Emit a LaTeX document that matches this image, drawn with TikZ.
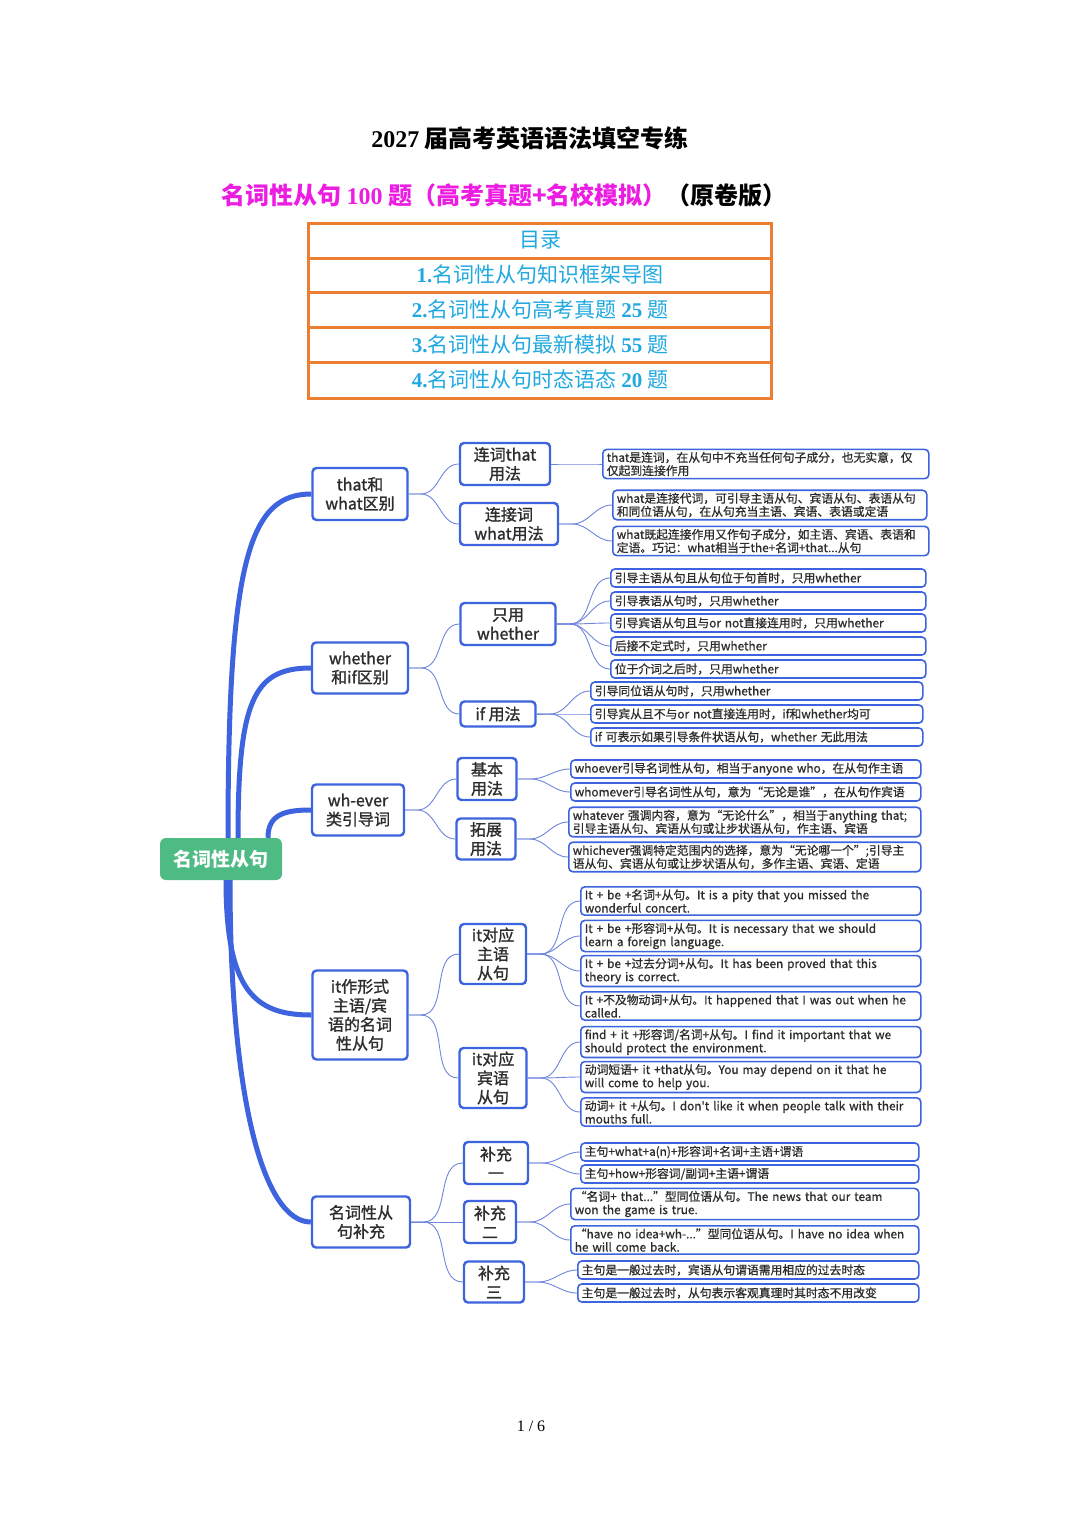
\documentclass[tikz,border=0pt]{standalone}
\usepackage{fontspec}
\setmainfont{Noto Sans CJK SC}[Ligatures=TeXOff]
\newfontfamily\mapfont{Noto Sans CJK SC}[Ligatures=TeXOff,FakeBold=0.8]
\newfontfamily\topicfont{Noto Sans CJK SC}[Ligatures=TeXOff,FakeBold=1.3]
\newfontfamily\serifnum{Liberation Serif}
\definecolor{mapblue}{RGB}{61,100,222}
\definecolor{linkblue}{RGB}{112,134,220}
\definecolor{rootgreen}{RGB}{78,186,132}
\definecolor{inkgray}{RGB}{45,45,45}
\definecolor{tocorange}{RGB}{237,125,49}
\definecolor{toccyan}{RGB}{32,168,224}
\definecolor{titlepink}{RGB}{236,28,226}
\begin{document}
\begin{tikzpicture}[x=1pt,y=-1pt,
		root/.style={fill=rootgreen,rounded corners=6pt,text=white,font=\fontsize{19}{22}\selectfont\bfseries,minimum width=122pt,minimum height=42pt},
		topic/.style={draw=mapblue,line width=2.4pt,rounded corners=4pt,fill=white,text=inkgray,align=center,inner sep=2pt,font=\topicfont\fontsize{16}{19}\selectfont},
		leaf/.style={draw=mapblue,line width=1.6pt,rounded corners=4pt,fill=white,text=inkgray,align=left,anchor=west,inner xsep=4pt,inner ysep=2.5pt,minimum height=18pt,font=\mapfont\fontsize{11.8}{13.2}\selectfont},
		branch/.style={draw=mapblue,line width=5pt},
		twig/.style={draw=linkblue,line width=0.9pt},
		toc/.style={text=toccyan,font=\fontsize{21}{24}\selectfont}]
		\useasboundingbox[fill=white] (0,0) rectangle (1080,1528);
		\node (title) at (530,138) {\fontsize{24}{28}\selectfont\bfseries{\serifnum 2027} 届高考英语语法填空专练};
		\node (sub) at (504,195) {\fontsize{24}{28}\selectfont\bfseries\textcolor{titlepink}{名词性从句 {\serifnum 100} 题（高考真题+名校模拟）}（原卷版）};
		\draw[tocorange,line width=3pt] (308,223) rectangle (771,398);
		\foreach \y in {258,292,327,362}{
			\draw[tocorange,line width=3pt] (308,\y) -- (771,\y);
		}
		\node[toc] (toc0) at (540,240) {目录};
		\node[toc] (toc1) at (540,275) {{\serifnum\bfseries 1.}名词性从句知识框架导图};
		\node[toc] (toc2) at (540,310) {{\serifnum\bfseries 2.}名词性从句高考真题 {\serifnum\bfseries 25} 题};
		\node[toc] (toc3) at (540,345) {{\serifnum\bfseries 3.}名词性从句最新模拟 {\serifnum\bfseries 55} 题};
		\node[toc] (toc4) at (540,380) {{\serifnum\bfseries 4.}名词性从句时态语态 {\serifnum\bfseries 20} 题};

		\node[root] (root) at (221,859) {名词性从句};
		\node[topic,minimum width=95pt,minimum height=52pt] (tw) at (360,494) {that和\\what区别};
		\node[topic,minimum width=96pt,minimum height=51pt] (wi) at (360,668) {whether\\和if区别};
		\node[topic,minimum width=92pt,minimum height=51pt] (we) at (358,810) {wh-ever\\类引导词};
		\node[topic,minimum width=95pt,minimum height=89pt] (it) at (360,1015) {it作形式\\主语/宾\\语的名词\\性从句};
		\node[topic,minimum width=98pt,minimum height=51pt] (bc) at (361,1222) {名词性从\\句补充};

		\node[topic,minimum width=90pt,minimum height=42pt] (tw1) at (505,464) {连词that\\用法};
		\node[topic,minimum width=98pt,minimum height=42pt] (tw2) at (509,524) {连接词\\what用法};
		\node[topic,minimum width=95pt,minimum height=42pt] (wi1) at (508,624) {只用\\whether};
		\node[topic,minimum width=75pt,minimum height=25pt] (wi2) at (498,714) {if 用法};
		\node[topic,minimum width=59pt,minimum height=42pt] (we1) at (487,779) {基本\\用法};
		\node[topic,minimum width=59pt,minimum height=41pt] (we2) at (486,839) {拓展\\用法};
		\node[topic,minimum width=66pt,minimum height=60pt] (it1) at (493,954) {it对应\\主语\\从句};
		\node[topic,minimum width=67pt,minimum height=60pt] (it2) at (493,1078) {it对应\\宾语\\从句};
		\node[topic,minimum width=64pt,minimum height=42pt] (bc1) at (496,1163) {补充\\一};
		\node[topic,minimum width=52pt,minimum height=42pt] (bc2) at (490,1222) {补充\\二};
		\node[topic,minimum width=60pt,minimum height=41pt] (bc3) at (494,1282) {补充\\三};

		\node[leaf,text width=318pt] (a1) at (602,464) {that是连词，在从句中不充当任何句子成分，也无实意，仅\\仅起到连接作用};
		\node[leaf,text width=306pt] (a2) at (612,505) {what是连接代词，可引导主语从句、宾语从句、表语从句\\和同位语从句，在从句充当主语、宾语、表语或定语};
		\node[leaf,text width=308pt] (a3) at (612,541) {what既起连接作用又作句子成分，如主语、宾语、表语和\\定语。巧记：what相当于the+名词+that...从句};
		\node[leaf,text width=307pt] (b1) at (610,578) {引导主语从句且从句位于句首时，只用whether};
		\node[leaf,text width=307pt] (b2) at (610,601) {引导表语从句时，只用whether};
		\node[leaf,text width=307pt] (b3) at (610,623) {引导宾语从句且与or not直接连用时，只用whether};
		\node[leaf,text width=307pt] (b4) at (610,646) {后接不定式时，只用whether};
		\node[leaf,text width=307pt] (b5) at (610,669) {位于介词之后时，只用whether};
		\node[leaf,text width=324pt] (c1) at (590,691) {引导同位语从句时，只用whether};
		\node[leaf,text width=324pt] (c2) at (590,714) {引导宾从且不与or not直接连用时，if和whether均可};
		\node[leaf,text width=324pt] (c3) at (590,737) {if 可表示如果引导条件状语从句，whether 无此用法};
		\node[leaf,text width=342pt] (d1) at (570,769) {whoever引导名词性从句，相当于anyone who，在从句作主语};
		\node[leaf,text width=342pt] (d2) at (570,792) {whomever引导名词性从句，意为“无论是谁”，在从句作宾语};
		\node[leaf,text width=344pt] (e1) at (568,822) {whatever 强调内容，意为“无论什么”，相当于anything that;\\引导主语从句、宾语从句或让步状语从句，作主语、宾语};
		\node[leaf,text width=344pt] (e2) at (568,857) {whichever强调特定范围内的选择，意为“无论哪一个”;引导主\\语从句、宾语从句或让步状语从句，多作主语、宾语、定语};
		\node[leaf,text width=332pt] (f1) at (580,901) {It + be +名词+从句。It is a pity that you missed the\\wonderful concert.};
		\node[leaf,text width=332pt] (f2) at (580,936) {It + be +形容词+从句。It is necessary that we should\\learn a foreign language.};
		\node[leaf,text width=332pt] (f3) at (580,971) {It + be +过去分词+从句。It has been proved that this\\theory is correct.};
		\node[leaf,text width=332pt] (f4) at (580,1006) {It +不及物动词+从句。It happened that I was out when he\\called.};
		\node[leaf,text width=332pt] (g1) at (580,1042) {find + it +形容词/名词+从句。I find it important that we\\should protect the environment.};
		\node[leaf,text width=332pt] (g2) at (580,1077) {动词短语+ it +that从句。You may depend on it that he\\will come to help you.};
		\node[leaf,text width=332pt] (g3) at (580,1112) {动词+ it +从句。I don't like it when people talk with their\\mouths full.};
		\node[leaf,text width=330pt] (h1) at (580,1152) {主句+what+a(n)+形容词+名词+主语+谓语};
		\node[leaf,text width=330pt] (h2) at (580,1174) {主句+how+形容词/副词+主语+谓语};
		\node[leaf,text width=340pt] (i1) at (570,1204) {“名词+ that...”型同位语从句。The news that our team\\won the game is true.};
		\node[leaf,text width=340pt] (i2) at (570,1240) {“have no idea+wh-...”型同位语从句。I have no idea when\\he will come back.};
		\node[leaf,text width=333pt] (j1) at (577,1270) {主句是一般过去时，宾语从句谓语需用相应的过去时态};
		\node[leaf,text width=333pt] (j2) at (577,1293) {主句是一般过去时，从句表示客观真理时其时态不用改变};

		\draw[branch] ([xshift=7pt]root.north) .. controls +(0,-278) and +(-62,0) .. (tw.west);
		\draw[branch] ([xshift=17pt]root.north) .. controls +(0,-138) and +(-57,0) .. (wi.west);
		\draw[branch] ([xshift=47pt]root.north) .. controls +(0,-23) and +(-27,0) .. (we.west);
		\draw[branch] ([xshift=5pt]root.south) .. controls +(0,110) and +(-57,0) .. (it.west);
		\draw[branch] ([xshift=9pt]root.south) .. controls +(0,220) and +(-47,0) .. (bc.west);
		\foreach \p/\c in {tw/tw1,tw/tw2,wi/wi1,wi/wi2,we/we1,we/we2,it/it1,it/it2,bc/bc1,bc/bc2,bc/bc3}{
			\draw[twig] (\p.east) -- ++(12,0) to[out=0,in=180] (\c.west);
		}
		\foreach \p/\c in {tw1/a1,tw2/a2,tw2/a3,wi1/b1,wi1/b2,wi1/b3,wi1/b4,wi1/b5,wi2/c1,wi2/c2,wi2/c3,we1/d1,we1/d2,we2/e1,we2/e2,it1/f1,it1/f2,it1/f3,it1/f4,it2/g1,it2/g2,it2/g3,bc1/h1,bc1/h2,bc2/i1,bc2/i2,bc3/j1,bc3/j2}{
			\draw[twig] (\p.east) -- ++(13,0) to[out=0,in=180] (\c.west);
		}

		\node (page) at (531,1426) {\serifnum\fontsize{16}{18}\selectfont 1 / 6};
	\end{tikzpicture}
\end{document}
